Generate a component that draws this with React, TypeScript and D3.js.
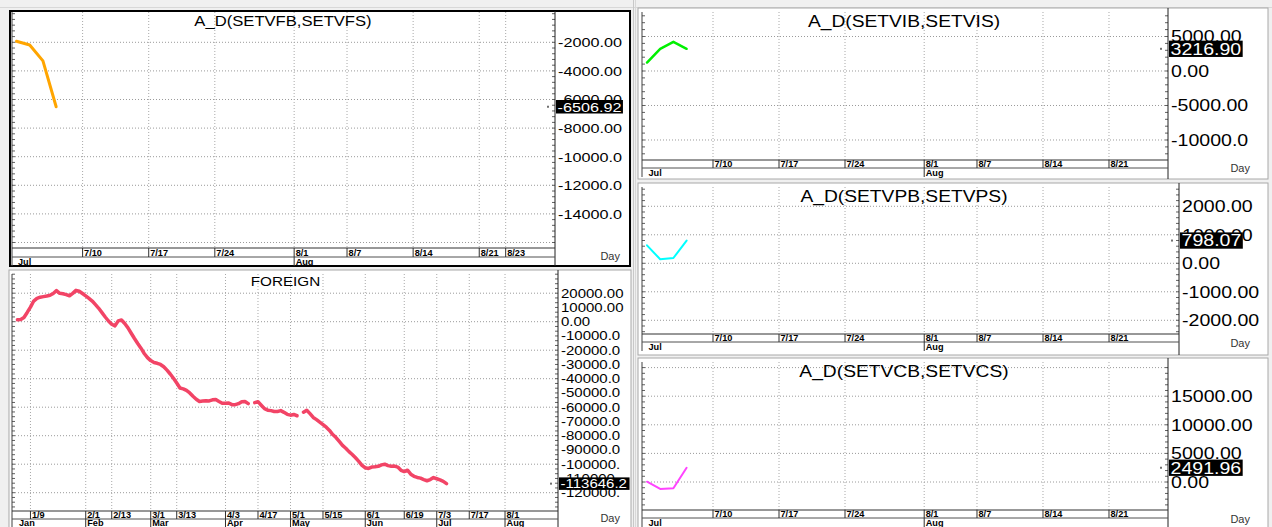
import React from 'react';
import * as d3 from 'd3';

const W = 1272;
const H = 527;
const SX = 1.2;
const FONT = "'Liberation Sans', Arial, sans-serif";

// ---------- data ----------
const vfValues: (number | null)[] = [-1930, -2190, -3300, -6506.92];
const viValues: (number | null)[] = [1230, 3220, 4230, 3216.9];
const vpValues: (number | null)[] = [630, 140, 185, 798.07];
const vcValues: (number | null)[] = [50, -1220, -1100, 2491.96];

const foreignValues: (number | null)[] = [
  1300, 1600, 3000, 6500, 10200, 14500, 16400, 17200, 17600, 18000,
  18500, 19800, 21800, 19900, 19600, 19000, 18200, 19900, 22000, 21400,
  19800, 18100, 16400, 14500, 12000, 9400, 6400, 3300, 500, -1800,
  -2900, 600, 1200, -1300, -4300, -8100, -11800, -15300, -18600, -22300,
  -25200, -27300, -28600, -29200, -30000, -31600, -34000, -36700, -39700, -43000,
  -46500, -47100, -48200, -50000, -52300, -54400, -56000, -55700, -55400, -55600,
  -54800, -54600, -56000, -57300, -57300, -57000, -58200, -58200, -57500, -56100,
  -56000, -57500, null, -56800, -56100, -58600, -61000, -62100, -62400, -63000,
  -63000, -62400, -63600, -65000, -65600, -65100, -66000, null, -63500, -62100,
  -64500, -67200, -68700, -70500, -72200, -74000, -76300, -79200, -81300, -84000,
  -86800, -88800, -91200, -93200, -95500, -98000, -100800, -102500, -103000, -102000,
  -101800, -101500, -100500, -100000, -101000, -101400, -101300, -102000, -104300, -105200,
  -104200, -107000, -108500, -109300, -109800, -110800, -111600, -110800, -109400, -110200,
  -111000, -112000, -113646.2,
];

const longTickLabels = ['1/9', '2/1', '2/13', '3/1', '3/13', '4/3', '4/17', '5/1', '5/15', '6/1', '6/19', '7/3', '7/17', '8/1'];
const longMonthLabels = ['Jan', 'Feb', 'Mar', 'Apr', 'May', 'Jun', 'Jul', 'Aug'];
const shortTickLabelsL = ['7/10', '7/17', '7/24', '8/1', '8/7', '8/14', '8/21', '8/23'];
const shortTickLabelsR = ['7/10', '7/17', '7/24', '8/1', '8/7', '8/14', '8/21'];
const shortMonthLabels = ['Jul', 'Aug'];

const vfGrid = [-2000, -4000, -6000, -8000, -10000, -12000, -14000, -16000];
const vfLabels = [-2000, -4000, -6000, -8000, -10000, -12000, -14000];
const foreignGrid = [20000, 0, -20000, -40000, -60000, -80000, -100000, -120000];
const foreignLabels = [20000, 10000, 0, -10000, -20000, -30000, -40000, -50000, -60000, -70000, -80000, -90000, -100000, -110000, -120000];
const viGrid = [5000, 0, -5000, -10000];
const viLabels = [5000, 0, -5000, -10000];
const vpGrid = [2000, 1000, 0, -1000, -2000];
const vpLabels = [2000, 1000, 0, -1000, -2000];
const vcGrid = [20000, 15000, 10000, 5000, 0];
const vcLabels = [15000, 10000, 5000, 0];

// ---------- calendars (weekday index axes) ----------
const weekdays = (a: Date, b: Date) => d3.timeDay.range(a, b).filter((d) => d.getDay() !== 0 && d.getDay() !== 6);
const longDays = weekdays(new Date(2023, 0, 3), new Date(2023, 8, 30));
const shortDays = weekdays(new Date(2023, 6, 3), new Date(2023, 8, 30));
const fmtMD = d3.timeFormat('%-m/%-d');
const fmtMon = d3.timeFormat('%b');

const fmtTick = (v: number) => v.toFixed(2).slice(0, 8);
const fmtBox = (v: number) => v.toFixed(2).slice(0, 9);
const charW = (s: string) => [...s].reduce((a, ch) => a + (ch === '-' ? 0.333 : ch === '.' ? 0.278 : 0.556), 0);

function T(p: { x: number; y: number; size: number; anchor?: string; weight?: string; fill?: string; sx?: number; children: React.ReactNode }) {
  const sx = p.sx ?? SX;
  return (
    <text
      transform={`translate(${p.x},${p.y}) scale(${sx},1)`}
      fontSize={p.size}
      fontFamily={FONT}
      textAnchor={p.anchor ?? 'start'}
      fontWeight={p.weight ?? 'normal'}
      fill={p.fill ?? '#000'}
    >
      {p.children}
    </text>
  );
}

type Cfg = {
  id: string;
  title: string; titleX: number; titleY: number; titleSize: number; titleSx: number;
  x0: number; y0: number; x1: number; y1: number;
  plotL: number; plotT: number; plotR: number; plotB: number; dateB: number; monthB: number;
  xDomain: [number, number]; yDomain: [number, number];
  values: (number | null)[]; color: string; width: number;
  grid: number[]; labels: number[]; labelSize: number; minorStep: number;
  days: Date[]; tickLabels: string[]; monthLabels: string[];
  border: string; borderW: number; dayX: number; dayY: number;
};

function Panel({ c }: { c: Cfg }) {
  const x = d3.scaleLinear().domain(c.xDomain).range([c.plotL, c.plotR]);
  const y = d3.scaleLinear().domain(c.yDomain).range([c.plotB, c.plotT]);
  const line = d3
    .line<number | null>()
    .defined((v) => v !== null)
    .x((_, i) => x(i))
    .y((v) => y(v as number));
  const ticks = c.tickLabels.map((l) => ({ l, i: c.days.findIndex((d) => fmtMD(d) === l) }));
  const months = c.monthLabels.map((m) => ({ m, i: c.days.findIndex((d) => fmtMon(d) === m) }));
  const last = c.values[c.values.length - 1] as number;
  const minors = d3.range(Math.ceil(c.yDomain[0] / c.minorStep), Math.floor(c.yDomain[1] / c.minorStep) + 1).map((k) => k * c.minorStep);
  const boxText = fmtBox(last);
  const boxW = charW(boxText) * c.labelSize * SX + 3;
  const ly = y(last);
  return (
    <g>
      <defs>
        <clipPath id={`clip-${c.id}`}>
          <rect x={c.plotL} y={c.plotT} width={c.plotR - c.plotL} height={c.plotB - c.plotT} />
        </clipPath>
        <clipPath id={`pclip-${c.id}`}>
          <rect x={c.x0} y={c.y0} width={c.x1 - c.x0} height={c.y1 - c.y0} />
        </clipPath>
      </defs>
      <rect x={c.x0} y={c.y0} width={c.x1 - c.x0} height={c.y1 - c.y0} fill="#fff" stroke={c.border} strokeWidth={c.borderW} />
      <g clipPath={`url(#pclip-${c.id})`}>
        {c.grid.map((g) => (
          <line key={'g' + g} x1={c.plotL} x2={c.plotR} y1={y(g)} y2={y(g)} stroke="#9a9a9a" strokeDasharray="1,2" />
        ))}
        {ticks.map((t) => (
          <line key={'v' + t.l} x1={x(t.i)} x2={x(t.i)} y1={c.plotT} y2={c.plotB} stroke="#a8a8a8" strokeDasharray="1,2" />
        ))}
        {minors.map((m) => (
          <g key={'m' + m}>
            <line x1={c.plotL} x2={c.plotL + 3} y1={y(m)} y2={y(m)} stroke="#606060" />
            <line x1={c.plotR - 3} x2={c.plotR} y1={y(m)} y2={y(m)} stroke="#606060" />
          </g>
        ))}
        <T x={c.titleX} y={c.titleY} size={c.titleSize} anchor="middle" sx={c.titleSx}>
          {c.title}
        </T>
        <path d={line(c.values) ?? ''} fill="none" stroke={c.color} strokeWidth={c.width} strokeLinejoin="round" strokeLinecap="round" clipPath={`url(#clip-${c.id})`} />
        <line x1={c.plotL} x2={c.plotL} y1={c.plotT} y2={c.monthB} stroke="#404040" />
        <line x1={c.plotR} x2={c.plotR} y1={c.y0} y2={c.y1} stroke="#202020" />
        <line x1={c.plotL} x2={c.plotR} y1={c.plotB} y2={c.plotB} stroke="#303030" />
        <line x1={c.plotL} x2={c.plotR} y1={c.dateB} y2={c.dateB} stroke="#505050" />
        {ticks.map((t) => (
          <g key={'t' + t.l}>
            <line x1={x(t.i)} x2={x(t.i)} y1={c.plotB} y2={c.dateB} stroke="#303030" />
            <T x={x(t.i) + 1.5} y={c.dateB - 1} size={8.2} weight="bold" sx={1.12}>{t.l}</T>
          </g>
        ))}
        {months.map((m, k) => (
          <g key={'mo' + m.m}>
            {k > 0 && <line x1={x(m.i)} x2={x(m.i)} y1={c.dateB} y2={c.monthB} stroke="#303030" />}
            <T x={x(m.i) + 1.5} y={c.monthB - 1} size={8.2} weight="bold" sx={1.12}>{m.m}</T>
          </g>
        ))}
        {c.labels.map((v) => (
          <T key={'l' + v} x={c.plotR + 3} y={y(v) + c.labelSize * 0.36} size={c.labelSize}>
            {fmtTick(v)}
          </T>
        ))}
        <rect x={c.plotR - 8} y={ly - 1} width={2} height={2} fill="#707070" />
        <rect x={c.plotR + 1} y={ly - c.labelSize * 0.5} width={boxW} height={c.labelSize} fill="#000" />
        <T x={c.plotR + 2.5} y={ly + c.labelSize * 0.36} size={c.labelSize} fill="#fff">
          {boxText}
        </T>
        <T x={c.dayX} y={c.dayY} size={10.5} anchor="end" fill="#333" sx={1.05}>
          Day
        </T>
      </g>
    </g>
  );
}

const panels: Cfg[] = [
  {
    id: 'vf', title: 'A_D(SETVFB,SETVFS)', titleX: 283, titleY: 26, titleSize: 15.4, titleSx: 1.08,
    x0: 10, y0: 11, x1: 630, y1: 266, plotL: 12, plotT: 12, plotR: 555, plotB: 248, dateB: 257, monthB: 266,
    xDomain: [-0.34, 40.73], yDomain: [-16385, 119], values: vfValues, color: '#FFA500', width: 3,
    grid: vfGrid, labels: vfLabels, labelSize: 13.5, minorStep: 400,
    days: shortDays, tickLabels: shortTickLabelsL, monthLabels: shortMonthLabels,
    border: '#000', borderW: 2, dayX: 620, dayY: 260,
  },
  {
    id: 'fo', title: 'FOREIGN', titleX: 285.5, titleY: 286, titleSize: 13.5, titleSx: 1.13,
    x0: 9, y0: 270, x1: 631, y1: 532, plotL: 12, plotT: 274, plotR: 558, plotB: 511, dateB: 519, monthB: 527,
    xDomain: [-1.68, 166.3], yDomain: [-132842, 33474], values: foreignValues, color: '#F24466', width: 3.5,
    grid: foreignGrid, labels: foreignLabels, labelSize: 12.5, minorStep: 3333.33,
    days: longDays, tickLabels: longTickLabels, monthLabels: longMonthLabels,
    border: '#a8a8a8', borderW: 1, dayX: 620, dayY: 522,
  },
  {
    id: 'vi', title: 'A_D(SETVIB,SETVIS)', titleX: 904, titleY: 27, titleSize: 16.3, titleSx: 1.18,
    x0: 638, y0: 8, x1: 1268, y1: 179, plotL: 642, plotT: 12, plotR: 1168, plotB: 160, dateB: 168, monthB: 177,
    xDomain: [-0.379, 39.47], yDomain: [-12899, 8551], values: viValues, color: '#00F000', width: 2.5,
    grid: viGrid, labels: viLabels, labelSize: 16.3, minorStep: 1000,
    days: shortDays, tickLabels: shortTickLabelsR, monthLabels: shortMonthLabels,
    border: '#a8a8a8', borderW: 1, dayX: 1250, dayY: 172,
  },
  {
    id: 'vp', title: 'A_D(SETVPB,SETVPS)', titleX: 904, titleY: 201.7, titleSize: 16.3, titleSx: 1.18,
    x0: 638, y0: 183, x1: 1268, y1: 355, plotL: 642, plotT: 187, plotR: 1179, plotB: 334, dateB: 342, monthB: 351,
    xDomain: [-0.379, 40.3], yDomain: [-2481, 2677], values: vpValues, color: '#00FFFF', width: 2,
    grid: vpGrid, labels: vpLabels, labelSize: 16.3, minorStep: 200,
    days: shortDays, tickLabels: shortTickLabelsR, monthLabels: shortMonthLabels,
    border: '#a8a8a8', borderW: 1, dayX: 1250, dayY: 347,
  },
  {
    id: 'vc', title: 'A_D(SETVCB,SETVCS)', titleX: 904, titleY: 376.7, titleSize: 16.3, titleSx: 1.18,
    x0: 638, y0: 358, x1: 1268, y1: 532, plotL: 642, plotT: 362, plotR: 1168, plotB: 510, dateB: 518, monthB: 527,
    xDomain: [-0.379, 39.47], yDomain: [-4895, 20979], values: vcValues, color: '#FF44FF', width: 2,
    grid: vcGrid, labels: vcLabels, labelSize: 16.3, minorStep: 1000,
    days: shortDays, tickLabels: shortTickLabelsR, monthLabels: shortMonthLabels,
    border: '#a8a8a8', borderW: 1, dayX: 1250, dayY: 523,
  },
];

export default function App() {
  return (
    <div style={{ position: 'absolute', left: 0, top: 0, width: W, height: H, overflow: 'hidden' }}>
      <svg width={W} height={H} style={{ display: 'block' }}>
        <rect x={0} y={0} width={W} height={H} fill="#f0f0f0" />
        <line x1={0} x2={W} y1={7.5} y2={7.5} stroke="#d8d8d8" />
        <line x1={633.5} x2={633.5} y1={0} y2={H} stroke="#c8c8c8" />
        <line x1={635.5} x2={635.5} y1={0} y2={H} stroke="#d8d8d8" />
        {panels.map((c) => (
          <Panel key={c.id} c={c} />
        ))}
      </svg>
    </div>
  );
}
